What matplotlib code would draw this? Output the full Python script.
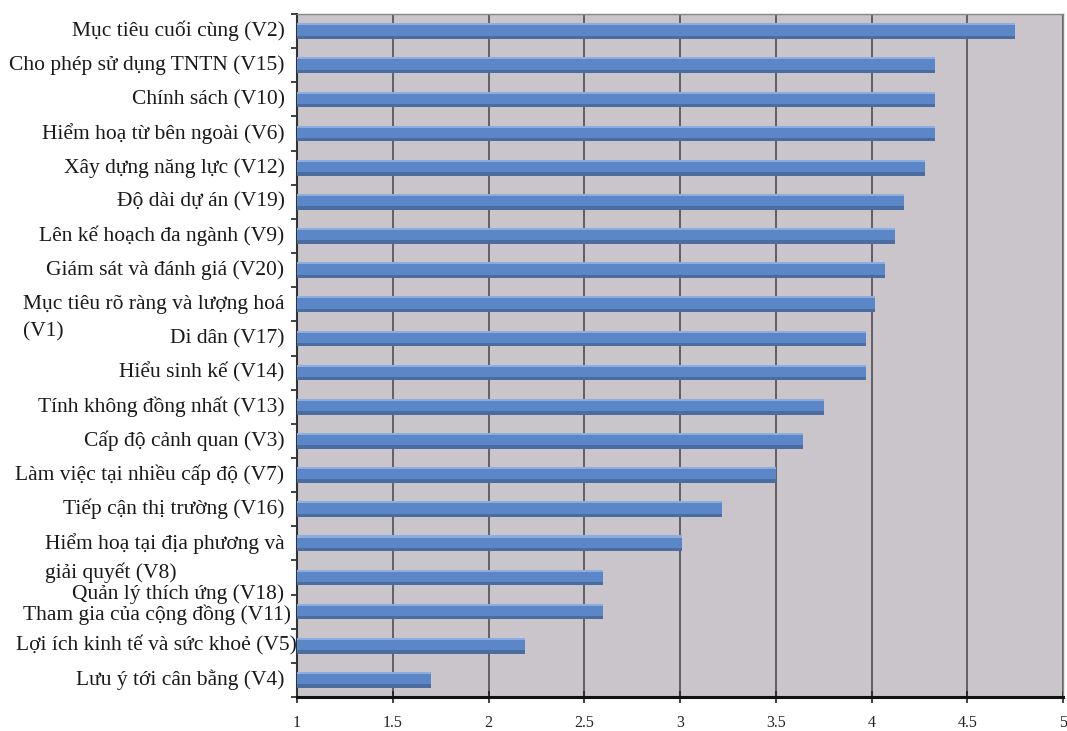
import numpy as np
import matplotlib.pyplot as plt

labels = [
    "Mục tiêu cuối cùng (V2)",
    "Cho phép sử dụng TNTN (V15)",
    "Chính sách (V10)",
    "Hiểm hoạ từ bên ngoài (V6)",
    "Xây dựng năng lực (V12)",
    "Độ dài dự án (V19)",
    "Lên kế hoạch đa ngành (V9)",
    "Giám sát và đánh giá (V20)",
    "Mục tiêu rõ ràng và lượng hoá\n(V1)",
    "Di dân (V17)",
    "Hiểu sinh kế (V14)",
    "Tính không đồng nhất (V13)",
    "Cấp độ cảnh quan (V3)",
    "Làm việc tại nhiều cấp độ (V7)",
    "Tiếp cận thị trường (V16)",
    "Hiểm hoạ tại địa phương và\ngiải quyết (V8)",
    "Quản lý thích ứng (V18)",
    "Tham gia của cộng đồng (V11)",
    "Lợi ích kinh tế và sức khoẻ (V5)",
    "Lưu ý tới cân bằng (V4)",
]
scores = [4.75, 4.33, 4.33, 4.33, 4.28, 4.17, 4.12, 4.07, 4.02, 3.97,
          3.97, 3.75, 3.64, 3.50, 3.22, 3.01, 2.60, 2.60, 2.19, 1.70]
xticks = [1, 1.5, 2, 2.5, 3, 3.5, 4, 4.5, 5]

plt.rcParams['font.family'] = ['Liberation Serif', 'DejaVu Serif']

fig = plt.figure(figsize=(10.67, 7.31), dpi=100)
ax = fig.add_axes([0.2784, 0.0465, 0.9963 - 0.2784, 0.9808 - 0.0465])
ax.set_facecolor('#c9c5ca')

y = np.arange(len(labels))
left = xticks[0]
widths = np.array(scores) - left
h = 0.46

# bars with a light top edge and a darker bottom edge
ax.barh(y, widths, left=left, height=h, color='#5b87c9', zorder=3)
ax.barh(y - h / 2 + 0.03, widths, left=left, height=0.06, color='#8cadde', zorder=4)
ax.barh(y + h / 2 - 0.05, widths, left=left, height=0.10, color='#4a6c9e', zorder=4)

ax.set_xlim(1, 5)
ax.set_ylim(len(labels) - 0.5, -0.5)
ax.set_xticks(xticks)
ax.set_xticklabels([f"{t:g}" for t in xticks], fontsize=11.5, color='#222222')
ax.grid(axis='x', color='#5a585c', linewidth=1.3, zorder=1)

# y ticks sit between categories; the names are drawn as annotations
ax.set_yticks(np.concatenate([[-0.5], y + 0.5]))
ax.set_yticklabels([])
ax.tick_params(axis='y', direction='out', length=4, width=1.2, color='#222222')
ax.tick_params(axis='x', direction='inout', length=8, width=1.2, color='#222222',
               pad=9)

# small nudges where neighbouring labels crowd each other (points)
dy = {16: -12, 17: -2}
dx = {17: -4, 18: 0}
for i, (yi, lab) in enumerate(zip(y, labels)):
    first, _, rest = lab.partition('\n')
    t = ax.annotate(first, xy=(0, yi), xycoords=('axes fraction', 'data'),
                    xytext=(dx.get(i, -9), dy.get(i, 0)),
                    textcoords='offset points', ha='right', va='center',
                    fontsize=15.5, color='#1a1a1a')
    if rest:
        # wrapped part hangs below, flush with the left of the first line
        ax.annotate(rest, xy=(0, 0), xycoords=t, xytext=(0, -6),
                    textcoords='offset points', ha='left', va='top',
                    fontsize=15.5, color='#1a1a1a')

for side in ['top', 'right']:
    ax.spines[side].set_color('#8a878c')
    ax.spines[side].set_linewidth(1)
ax.spines['left'].set_color('#333333')
ax.spines['left'].set_linewidth(1.5)
ax.spines['bottom'].set_color('#111111')
ax.spines['bottom'].set_linewidth(2.2)

fig.savefig('out.png', dpi=100)
